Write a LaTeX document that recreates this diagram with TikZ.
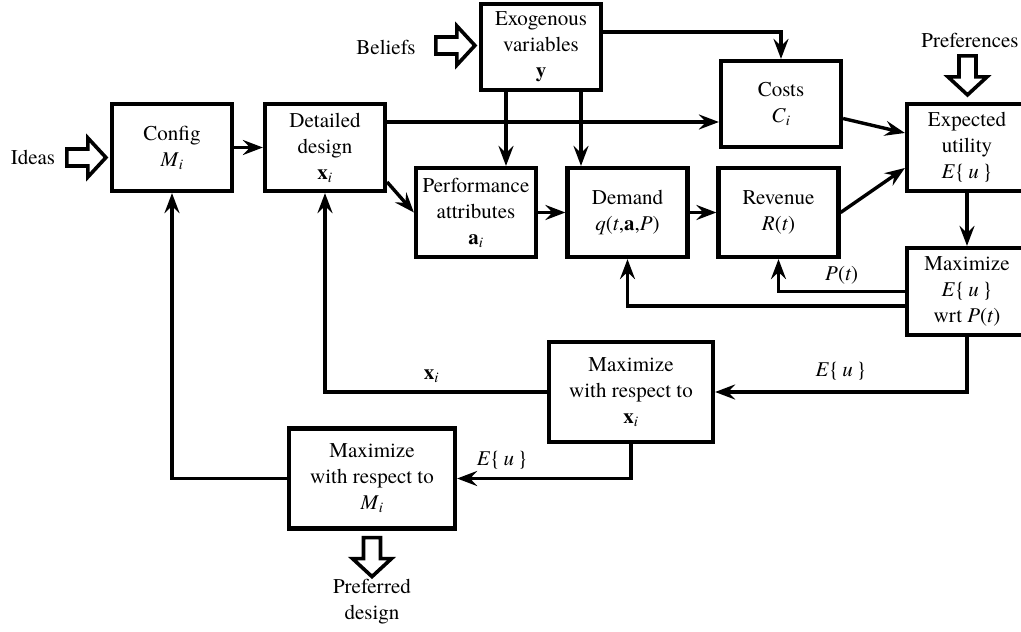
\documentclass[tikz,border=0pt]{standalone}
\usepackage{fontspec}
\setmainfont{texgyretermes}[Extension=.otf, UprightFont=*-regular, BoldFont=*-bold, ItalicFont=*-italic, BoldItalicFont=*-bolditalic]
\usetikzlibrary{calc,arrows.meta}

\newcommand{\Mi}{\textit{M}\textsubscript{\itshape i}}
\newcommand{\xvi}{\textbf{x}\textsubscript{\itshape i}}
\newcommand{\Eu}{\textit{E}\{\,\textit{u}\,\}}
\newcommand{\Pt}{\textit{P}(\textit{t})}

\begin{document}
\begin{tikzpicture}[x=1pt, y=-1pt,
box/.style = {draw, line width=4.2pt, minimum width=120pt, minimum height=87pt, align=center, inner sep=2pt},
bigbox/.style = {box, minimum width=164pt, minimum height=100pt},
lbl/.style = {align=center, inner sep=2pt},
con/.style = {line width=3.4pt, -{Stealth[length=20pt,width=15pt,inset=7pt]}},
hollow/.pic = {\draw[line width=3.6pt, fill=white] (0,-8.5) -- (21,-8.5) -- (21,-19.5) -- (39,0) -- (21,19.5) -- (21,8.5) -- (0,8.5) -- cycle;},
font = \fontsize{21}{26}\selectfont
]
\useasboundingbox (0,0) rectangle (1021,632);

% boxes
\node[box] (config) at (172,147.5) {Config\\\Mi};
\node[box] (design) at (325,147.5) {Detailed\\design\\\xvi};
\node[box, minimum height=86pt] (exo) at (541,47) {Exogenous\\variables\\\textbf{y}};
\node[box, minimum height=89pt] (perf) at (476,212.5) {Performance\\attributes\\\textbf{a}\textsubscript{\itshape i}};
\node[box, minimum height=89pt] (demand) at (627.5,212.5) {Demand\\\textit{q}(\textit{t},\textbf{a},\textit{P})};
\node[box, minimum height=89pt] (revenue) at (778.5,212.5) {Revenue\\\textit{R}(\textit{t})};
\node[box, minimum height=86pt] (costs) at (781,104) {Costs\\\textit{C}\textsubscript{\itshape i}};
\node[box] (utility) at (967,147.5) {Expected\\utility\\\Eu};
\node[box] (maxP) at (967,291.5) {Maximize\\\Eu\\wrt \Pt};
\node[bigbox] (maxx) at (631,392) {Maximize\\with respect to\\\xvi};
\node[bigbox, minimum width=166pt] (maxM) at (372,478.5) {Maximize\\with respect to\\\Mi};

% outside inputs and output
\node[lbl] (ideas) at (33,157) {Ideas};
\node[lbl] (beliefs) at (386,47) {Beliefs};
\node[lbl] (prefs) at (970,40) {Preferences};
\node[lbl] (preferred) at (372,602) {Preferred\\design};
\pic at ($(config.west)+(-43,10)$) {hollow};
\pic at ($(exo.west)+(-43,-1.5)$) {hollow};
\pic[rotate=-90] at ($(utility.north)+(0.5,-46)$) {hollow};
\pic[rotate=-90] at ($(maxM.south)+(0,7)$) {hollow};

% connectors
\foreach \i/\j in {config/design, perf/demand, demand/revenue, costs/utility, utility/maxP}{\draw[con] (\i) -- (\j);}
\draw[con] ([yshift=25.5pt]design.east) -- ([yshift=25.5pt]design.east -| costs.west);
\draw[con] ([yshift=-34.5pt]design.east) -- (perf.west);
\draw[con] ([xshift=-35pt]exo.south) -- ([xshift=-35pt]exo.south |- perf.north);
\draw[con] ([xshift=40pt]exo.south) -- ([xshift=40pt]exo.south |- demand.north);
\draw[con] ([yshift=15pt]exo.east) -| (costs.north);
\draw[con] (revenue.east) -- ([yshift=-20.5pt]utility.west);
\draw[con] (maxP.west) -| node[lbl, pos=0.25, above=4pt]{\Pt} (revenue.south);
\draw[con] ([yshift=-14.5pt]maxP.west) -| (demand.south);
\draw[con] (maxP.south) |- node[lbl, pos=0.75, above=8pt]{\Eu} (maxx.east);
\draw[con] (maxx.west) -| node[lbl, pos=0.26, above=6pt]{\xvi} (design.south);
\draw[con] (maxx.south) |- node[lbl, pos=0.87, above=6pt]{\Eu} (maxM.east);
\draw[con] (maxM.west) -| (config.south);
\end{tikzpicture}
\end{document}
